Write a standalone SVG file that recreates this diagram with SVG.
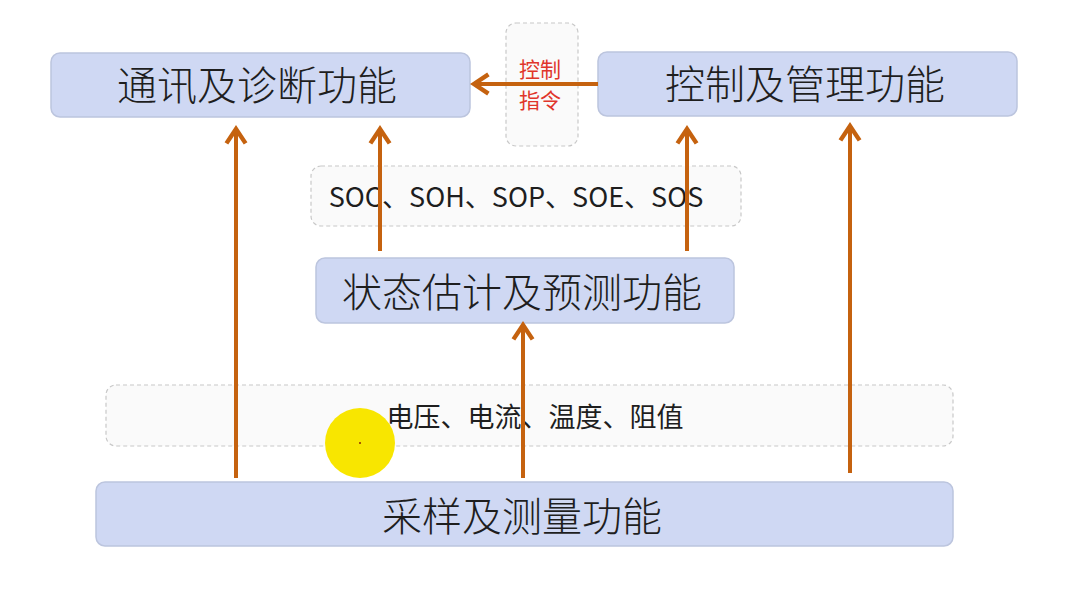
<svg xmlns="http://www.w3.org/2000/svg" width="1065" height="599" viewBox="0 0 1065 599">
<style>
.box{fill:#cfd8f3;stroke:#bcc5de;stroke-width:1.5}
.dash{fill:#fafafa;stroke:#c8c8c8;stroke-width:1.2;stroke-dasharray:4 3}
.big{font-family:"Noto Sans CJK SC","Liberation Sans",sans-serif;font-size:40px;font-weight:300;fill:#1e1e1e;text-anchor:middle;dominant-baseline:central}
.mid{font-family:"Noto Sans CJK SC","Liberation Sans",sans-serif;font-size:27px;fill:#1e1e1e;text-anchor:middle;dominant-baseline:central}
.red{font-family:"Noto Sans CJK SC","Liberation Sans",sans-serif;font-size:21px;fill:#e0352b;text-anchor:middle;dominant-baseline:central}
.arr{stroke:#c5620f;stroke-width:4;fill:none;marker-end:url(#ah)}
</style>
<defs>
<marker id="ah" markerWidth="6" markerHeight="6" refX="4.6" refY="3" orient="auto" markerUnits="strokeWidth" viewBox="0 0 6 6">
<path d="M1,0.6 L4.6,3 L1,5.4" fill="none" stroke="#c5620f" stroke-width="1.1" stroke-linejoin="miter"/>
</marker>
</defs>
<rect width="1065" height="599" fill="#ffffff"/>
<g id="cmd">
<rect class="dash" x="506" y="23" width="72" height="123" rx="10"/>
<text class="red" x="540" y="68">控制</text>
<text class="red" x="540" y="99">指令</text>
</g>
<g id="soc">
<rect class="dash" x="311" y="166" width="430" height="60" rx="10"/>
<text class="mid" x="516" y="195">SOC、SOH、SOP、SOE、SOS</text>
</g>
<g id="meas">
<rect class="dash" x="106" y="385" width="847" height="61" rx="10"/>
<text class="mid" x="535" y="415">电压、电流、温度、阻值</text>
</g>
<g id="comm">
<rect class="box" x="51" y="53" width="419" height="64" rx="9"/>
<text class="big" x="257" y="83">通讯及诊断功能</text>
</g>
<g id="ctrl">
<rect class="box" x="598" y="52" width="419" height="64" rx="9"/>
<text class="big" x="805" y="82">控制及管理功能</text>
</g>
<g id="state">
<rect class="box" x="316" y="258" width="418" height="65" rx="9"/>
<text class="big" x="522" y="290">状态估计及预测功能</text>
</g>
<g id="sample">
<rect class="box" x="96" y="482" width="857" height="64" rx="9"/>
<text class="big" x="522" y="514">采样及测量功能</text>
</g>
<g id="connectors">
<line class="arr" x1="598" y1="84" x2="474" y2="84"/>
<line class="arr" x1="236" y1="478" x2="236" y2="129"/>
<line class="arr" x1="380" y1="251" x2="380" y2="129"/>
<line class="arr" x1="687" y1="251" x2="687" y2="129"/>
<line class="arr" x1="850" y1="473" x2="850" y2="126"/>
<line class="arr" x1="523" y1="478" x2="523" y2="325"/>
</g>
<g id="pointer">
<circle cx="360" cy="443" r="35" fill="#f8e600"/>
<circle cx="360" cy="443" r="1" fill="#8a2a00"/>
</g>
</svg>
